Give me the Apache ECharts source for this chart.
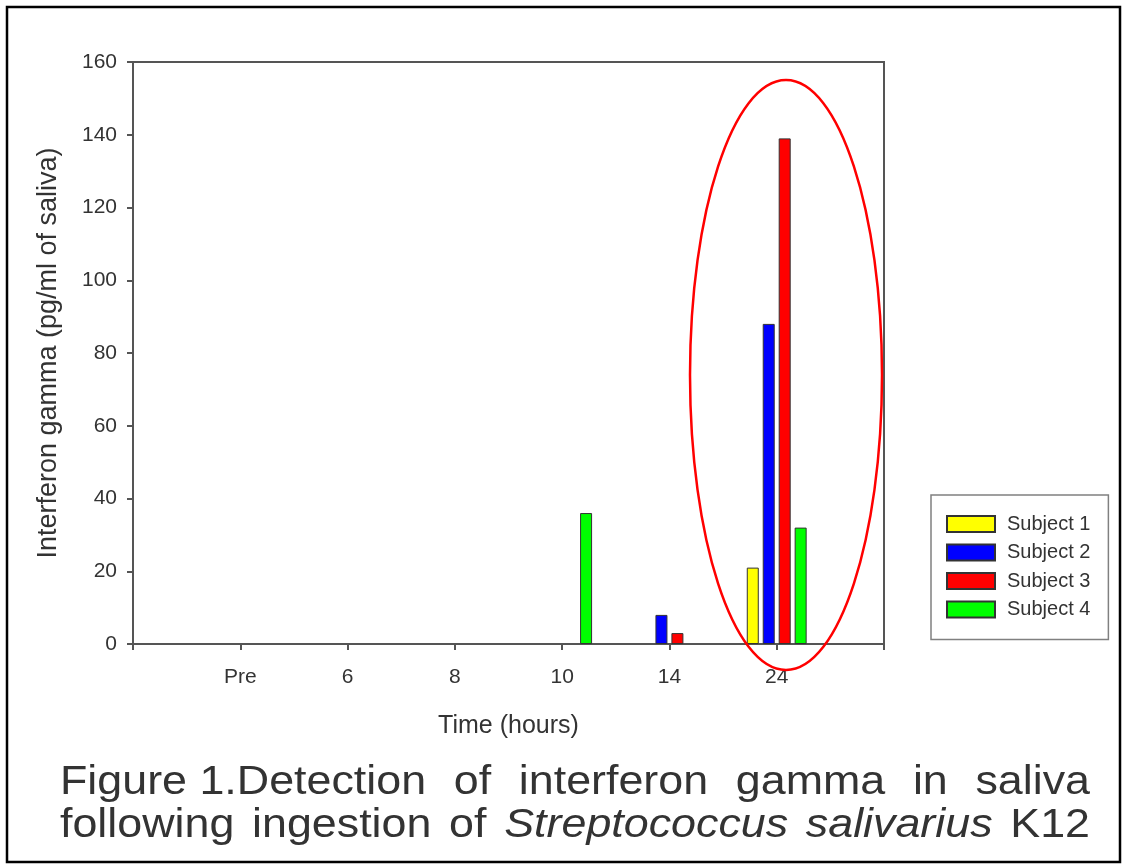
<!DOCTYPE html>
<html>
<head>
<meta charset="utf-8">
<script src="https://cdn.jsdelivr.net/npm/echarts@6/dist/echarts.min.js"></script>
<style>
html,body{margin:0;padding:0;background:#fff;}
#chart{width:1128px;height:865px;}
</style>
</head>
<body>
<div id="chart"></div>
<script>
// ---- data ----
const categories = ['', 'Pre', '6', '8', '10', '14', '24', ''];
const seriesNames = ['Subject 1', 'Subject 2', 'Subject 3', 'Subject 4'];
const subject1 = [null, null, null, null, null, null, 21, null];
const subject2 = [null, null, null, null, null, 8, 88, null];
const subject3 = [null, null, null, null, null, 3, 139, null];
const subject4 = [null, null, null, null, 36, null, 32, null];
const yTicks = [0, 20, 40, 60, 80, 100, 120, 140, 160];
const captionLine1 = [['Figure 1.Detection', false], ['of', false], ['interferon', false], ['gamma', false], ['in', false], ['saliva', false]];
const captionLine2 = [['following', false], ['ingestion', false], ['of', false], ['Streptococcus', true], ['salivarius', true], ['K12', false]];

const colors = ['#ffff00', '#0000ff', '#ff0000', '#00ff00'];
const FONT = "'Liberation Sans', Arial, sans-serif";

const chart = echarts.init(document.getElementById('chart'), null, {renderer: 'canvas'});

// justified caption words
const ctx = document.createElement('canvas').getContext('2d');
function captionGraphics(words, y, x0, x1, size, sx) {
  const widths = words.map(([w, it]) => {
    ctx.font = (it ? 'italic ' : '') + size + 'px ' + FONT;
    return ctx.measureText(w).width * sx;
  });
  const total = widths.reduce((a, b) => a + b, 0);
  const gap = (x1 - x0 - total) / (words.length - 1);
  let x = x0;
  return words.map(([w, it], i) => {
    const el = {
      type: 'text', x: x, y: y, scaleX: sx, z: 10,
      style: {text: w, font: (it ? 'italic ' : '') + size + 'px ' + FONT, fill: '#333',
              textAlign: 'left', textVerticalAlign: 'middle'}
    };
    x += widths[i] + gap;
    return el;
  });
}

const seriesData = [subject1, subject2, subject3, subject4];

const option = {
  animation: false,
  backgroundColor: '#fff',
  textStyle: {fontFamily: FONT},
  grid: {left: 133, top: 62, right: 244, bottom: 221, show: true, borderColor: '#555', borderWidth: 2, containLabel: false},
  legend: {
    orient: 'vertical', left: 931, top: 495,
    itemWidth: 48, itemHeight: 16, itemGap: 8.5,
    icon: 'rect',
    padding: [19, 18, 20, 15],
    borderColor: '#808080', borderWidth: 1.5,
    textStyle: {fontSize: 20, color: '#333', fontFamily: FONT, padding: [0, 0, 0, 7]},
    data: seriesNames
  },
  xAxis: {
    type: 'category', data: categories, boundaryGap: false,
    name: 'Time (hours)', nameLocation: 'middle', nameGap: 70,
    nameTextStyle: {fontSize: 25, color: '#333', fontFamily: FONT},
    axisLine: {lineStyle: {color: '#555', width: 2}},
    axisTick: {show: true, length: 6, lineStyle: {color: '#555', width: 2}},
    axisLabel: {fontSize: 21, color: '#333', margin: 23, fontFamily: FONT},
    splitLine: {show: false}
  },
  yAxis: {
    type: 'value', min: yTicks[0], max: yTicks[yTicks.length - 1], interval: 20,
    name: 'Interferon gamma (pg/ml of saliva)', nameLocation: 'middle', nameGap: 71,
    nameTextStyle: {fontSize: 27, color: '#333', fontFamily: FONT},
    axisLine: {show: true, lineStyle: {color: '#555', width: 2}},
    axisTick: {show: true, length: 6, lineStyle: {color: '#555', width: 2}},
    axisLabel: {fontSize: 21, color: '#333', margin: 16, fontFamily: FONT},
    splitLine: {show: false}
  },
  series: seriesNames.map((n, i) => ({
    name: n, type: 'bar', data: seriesData[i],
    barWidth: 12, barGap: '33%',
    itemStyle: {color: colors[i], borderColor: '#333', borderWidth: 1}
  })),
  graphic: [
    {type: 'rect', shape: {x: 7, y: 7, width: 1113, height: 855}, style: {fill: 'none', stroke: '#000', lineWidth: 2.5}, z: 20},
    {type: 'ellipse', shape: {cx: 786, cy: 375, rx: 96, ry: 295}, style: {fill: 'none', stroke: '#ff0000', lineWidth: 2.5}, z: 20}
  ].concat(captionGraphics(captionLine1, 783, 60, 1090, 40, 1.12))
   .concat(captionGraphics(captionLine2, 826, 60, 1090, 40, 1.12))
};
chart.setOption(option);
</script>
</body>
</html>
